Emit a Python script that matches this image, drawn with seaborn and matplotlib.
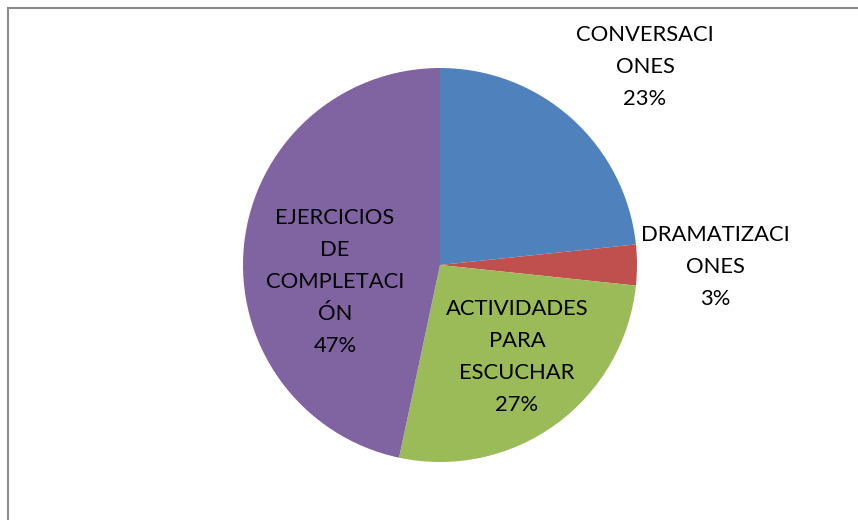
#%% bibliotecas
import matplotlib
matplotlib.use("Agg")
import matplotlib.pyplot as plt
import matplotlib.patches as mpatches
import seaborn as sns

#%% datos
actividades = ["CONVERSACI\nONES", "DRAMATIZACI\nONES", "ACTIVIDADES\nPARA\nESCUCHAR",
               "EJERCICIOS\nDE\nCOMPLETACI\nÓN"]
frecuencia = [7, 1, 8, 14]
colores = ["#4F81BD", "#C0504D", "#9BBB59", "#8064A2"]

# posiciones de las etiquetas (coordenadas del lienzo, en px)
pos_etiquetas = [(645, 453), (715, 253), (517, 163), (335, 238)]

#%% gráfico
sns.set_style("white")
plt.rcParams["font.family"] = ["Lato", "DejaVu Sans"]

fig = plt.figure(figsize=(8.58, 5.2), dpi=100)
ax = fig.add_axes([0, 0, 1, 1])

wedges, _ = ax.pie(frecuencia, colors=colores, startangle=90, counterclock=False,
                   center=(440, 255), radius=197, frame=True,
                   wedgeprops=dict(linewidth=0))
ax.set_xlim(0, 858)
ax.set_ylim(0, 520)
ax.set_aspect("equal")
ax.axis("off")

total = sum(frecuencia)
for nombre, valor, (x, y) in zip(actividades, frecuencia, pos_etiquetas):
    texto = f"{nombre}\n{round(100 * valor / total):.0f}%"
    ax.text(x, y, texto, ha="center", va="center", fontsize=15.8,
            linespacing=1.75, color="black")

# marco del área del gráfico
marco = mpatches.Rectangle((7.5, -20), 900, 520 - 7.5 + 20, fill=False,
                           edgecolor="#8C8C8C", linewidth=1.5)
ax.add_patch(marco)

fig.savefig("out.png", dpi=100)
